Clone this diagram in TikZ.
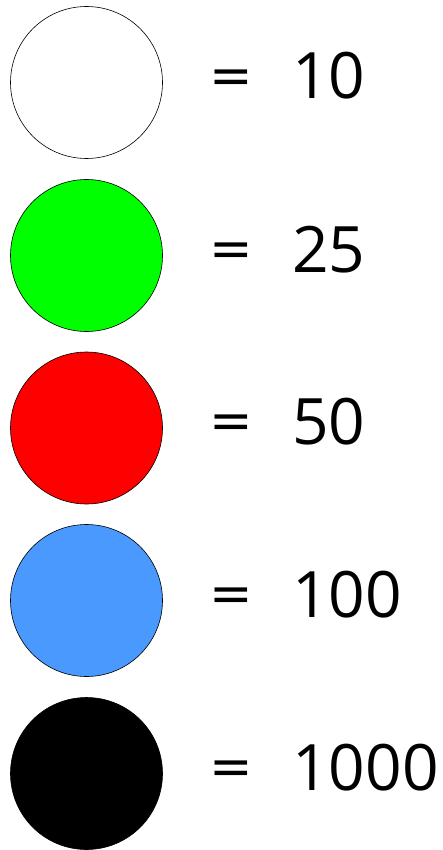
\documentclass[tikz,border=0pt]{standalone}
\usepackage{fontspec}
\setmainfont{Open Sans}
\newfontfamily\eqfont{DejaVu Sans}
\usepackage{tikz}
\usetikzlibrary{positioning}

\definecolor{coinwhite}{RGB}{255,255,255}
\definecolor{coingreen}{RGB}{0,255,0}
\definecolor{coinred}{RGB}{255,0,0}
\definecolor{coinblue}{RGB}{74,153,255}
\definecolor{coinblack}{RGB}{0,0,0}

\tikzset{
  coin/.style={circle, draw=black, line width=0.6pt, minimum size=152pt, inner sep=0pt},
  eqsign/.style={anchor=center, inner sep=0pt, font=\eqfont\fontsize{52}{58}\selectfont},
  worth/.style={anchor=base west, inner sep=0pt, font=\fontsize{64}{70}\selectfont}
}

\begin{document}
\begin{tikzpicture}[x=1pt, y=-1pt]
    % Canvas
    \useasboundingbox (0,0) rectangle (442,850);

    % Coins and their values
    \node[coin, fill=coinwhite] (c10) at (86.5, 82.5) {};
    \node[eqsign] (e10) at (231, 81.5) {=};
    \node[worth] (v10) at (292, 99) {10};

    \node[coin, fill=coingreen] (c25) at (86.5, 255.5) {};
    \node[eqsign] (e25) at (231, 254.5) {=};
    \node[worth] (v25) at (292, 272) {25};

    \node[coin, fill=coinred] (c50) at (86.5, 428) {};
    \node[eqsign] (e50) at (231, 427) {=};
    \node[worth] (v50) at (292, 444.5) {50};

    \node[coin, fill=coinblue] (c100) at (86.5, 600.5) {};
    \node[eqsign] (e100) at (231, 599.5) {=};
    \node[worth] (v100) at (292, 617) {100};

    \node[coin, fill=coinblack] (c1000) at (86.5, 773.5) {};
    \node[eqsign] (e1000) at (231, 772.5) {=};
    \node[worth] (v1000) at (292, 790) {1000};
\end{tikzpicture}
\end{document}
